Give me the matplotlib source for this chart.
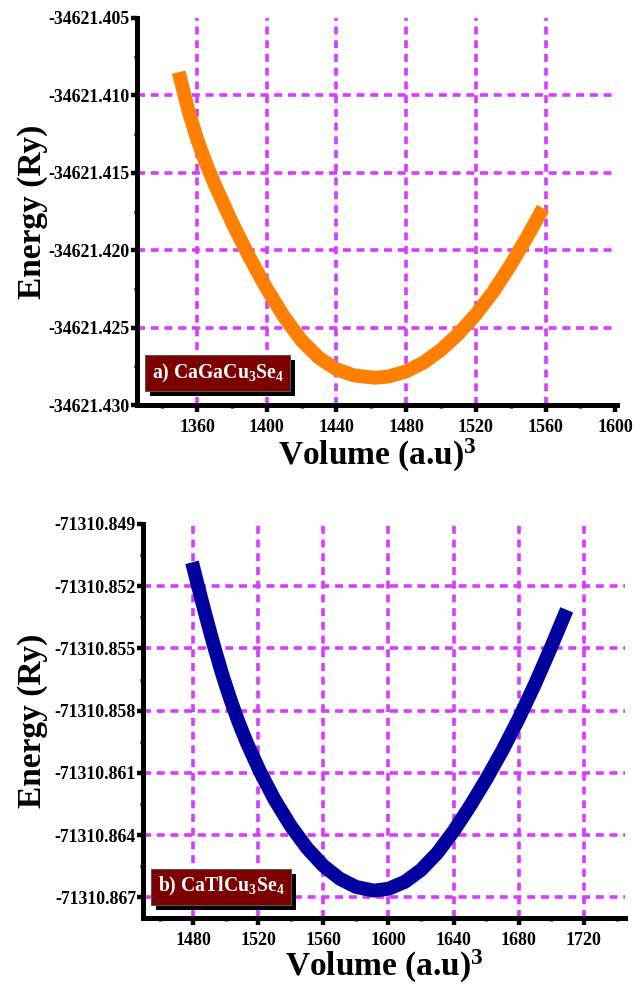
import matplotlib
matplotlib.use("Agg")
import matplotlib.pyplot as plt
from matplotlib.ticker import FixedLocator, FixedFormatter, MultipleLocator
from matplotlib.patches import Rectangle

# ---------------- data ----------------
vol_a = [1349.5, 1355, 1360, 1365, 1370, 1380, 1390, 1400, 1410, 1420, 1430,
         1440, 1450, 1462, 1470, 1480, 1490, 1500, 1510, 1520, 1530, 1540,
         1550, 1558.5]
en_a = [-34621.40850, -34621.41096, -34621.41281, -34621.41435, -34621.41571,
        -34621.41819, -34621.42044, -34621.42249, -34621.42431, -34621.42584,
        -34621.42696, -34621.42769, -34621.42809, -34621.42824, -34621.42816,
        -34621.42783, -34621.42726, -34621.42644, -34621.42540, -34621.42415,
        -34621.42268, -34621.42095, -34621.41903, -34621.41729]

vol_b = [1479.4, 1483.1, 1488, 1493, 1498, 1503, 1508, 1513, 1521, 1530, 1540,
         1550, 1560, 1570, 1580, 1591, 1600, 1610, 1620, 1630, 1640, 1650,
         1660, 1670, 1680, 1690, 1700, 1709.4]
en_b = [-71310.85085, -71310.85200, -71310.85348, -71310.85492, -71310.85626,
        -71310.85747, -71310.85856, -71310.85954, -71310.86092, -71310.86228,
        -71310.86356, -71310.86463, -71310.86548, -71310.86610, -71310.86650,
        -71310.86668, -71310.86659, -71310.86626, -71310.86568, -71310.86486,
        -71310.86381, -71310.86261, -71310.86131, -71310.85991, -71310.85838,
        -71310.85671, -71310.85491, -71310.85314]

xticks_a = [1360, 1400, 1440, 1480, 1520, 1560, 1600]
yticks_a = [-34621.430, -34621.425, -34621.420, -34621.415, -34621.410, -34621.405]
ylabels_a = ["-34621.430", "-34621.425", "-34621.420", "-34621.415", "-34621.410", "-34621.405"]

xticks_b = [1480, 1520, 1560, 1600, 1640, 1680, 1720]
yticks_b = [-71310.867, -71310.864, -71310.861, -71310.858, -71310.855, -71310.852, -71310.849]
ylabels_b = ["-71310.867", "-71310.864", "-71310.861", "-71310.858", "-71310.855", "-71310.852", "-71310.849"]

label_a = "a) CaGaCu$_3$Se$_4$"
label_b = "b) CaTlCu$_3$Se$_4$"

# ---------------- style ----------------
plt.rcParams['font.family'] = ['Liberation Serif', 'DejaVu Serif']
plt.rcParams['font.weight'] = 'bold'
plt.rcParams['mathtext.fontset'] = 'custom'
plt.rcParams['mathtext.rm'] = 'Liberation Serif:bold'
plt.rcParams['mathtext.it'] = 'Liberation Serif:bold'
plt.rcParams['mathtext.bf'] = 'Liberation Serif:bold'
plt.rcParams['mathtext.default'] = 'rm'

GRID = '#D83BFF'
BOX = '#7D0000'

fig = plt.figure(figsize=(6.34, 9.84), dpi=100)
W, H = 634, 984
ax1 = fig.add_axes([137 / W, 1 - 405 / H, 480 / W, 387 / H])
ax2 = fig.add_axes([143 / W, 1 - 918 / H, 482 / W, 394 / H])

boxes = []


def style(ax, xlim, ylim, xt, yt, ylab, xminor, yminor, color, vx, ve, label):
    ax.set_xlim(*xlim)
    ax.set_ylim(*ylim)
    for s in ['top', 'right']:
        ax.spines[s].set_visible(False)
    for s in ['left', 'bottom']:
        ax.spines[s].set_linewidth(3.6)
        ax.spines[s].set_capstyle('projecting')
    ax.xaxis.set_major_locator(FixedLocator(xt))
    ax.xaxis.set_major_formatter(FixedFormatter([str(v) for v in xt]))
    ax.yaxis.set_major_locator(FixedLocator(yt))
    ax.yaxis.set_major_formatter(FixedFormatter(ylab))
    ax.xaxis.set_minor_locator(MultipleLocator(xminor))
    ax.yaxis.set_minor_locator(FixedLocator(yminor))
    ax.tick_params(axis='x', which='major', direction='out', length=5, width=3.2,
                   labelsize=13, pad=5)
    ax.tick_params(axis='y', which='major', direction='out', length=4, width=3.2,
                   labelsize=12.8, pad=1)
    ax.tick_params(which='minor', direction='out', length=2.5, width=2.4)
    x0, x1 = xlim
    y0, y1 = ylim
    for v in xt:
        if x0 < v < x1 - 2:
            ax.axvline(v, color=GRID, lw=2.6, ls=(0, (2.2, 1.6)), zorder=1)
    for v in yt:
        if y0 < v < y1 - 1e-5:
            ax.axhline(v, color=GRID, lw=2.6, ls=(0, (2.2, 1.6)), zorder=1)
    ax.plot(vx, ve, color=color, lw=10, solid_capstyle='butt',
            solid_joinstyle='round', zorder=3)
    ax.set_ylabel('Energy (Ry)', fontsize=24, fontweight='bold', va='center')
    ax.set_xlabel('Volume (a.u)$^3$', fontsize=24, fontweight='bold', va='baseline')
    for lab in ax.get_xticklabels() + ax.get_yticklabels():
        lab.set_fontweight('bold')
    t = ax.text(0.031, label[1], label[0], transform=ax.transAxes, color='white',
                fontsize=14.2, va='center', ha='left', zorder=6,
                bbox=dict(boxstyle='square,pad=0.33', fc=BOX, ec='#555555', lw=0.8))
    boxes.append((ax, t))


ymin_a = [-34621.4275, -34621.4225, -34621.4175, -34621.4125, -34621.4075]
ymin_b = [-71310.8655, -71310.8625, -71310.8595, -71310.8565, -71310.8535, -71310.8505]

style(ax1, (1325.55, 1601.0), (-34621.430, -34621.405), xticks_a, yticks_a, ylabels_a,
      20, ymin_a, '#FF8000', vol_a, en_a, (label_a, 0.082))
style(ax2, (1449.3, 1745.2), (-71310.868, -71310.849), xticks_b, yticks_b, ylabels_b,
      20, ymin_b, '#00009E', vol_b, en_b, (label_b, 0.079))

ax1.yaxis.set_label_coords((33 - 137) / 480, 0.5)
ax2.yaxis.set_label_coords((33 - 143) / 482, 0.5)
ax1.xaxis.set_label_coords(0.5, -(465 - 405) / 387)
ax2.xaxis.set_label_coords(0.5, -(976 - 918) / 394)

# drop shadows behind the label boxes (drawn inside each axes, under the box)
fig.canvas.draw()
for ax, t in boxes:
    bb = t.get_bbox_patch().get_window_extent()
    inv = ax.transAxes.inverted()
    ax0x, ax0y = inv.transform((bb.x0 + 5, bb.y0 - 5))
    ax1x, ax1y = inv.transform((bb.x1 + 5, bb.y1 - 5))
    ax.add_patch(Rectangle((ax0x, ax0y), ax1x - ax0x, ax1y - ax0y,
                           transform=ax.transAxes, fc='black', ec='none',
                           zorder=5, clip_on=False))

fig.savefig('out.png', dpi=100)
